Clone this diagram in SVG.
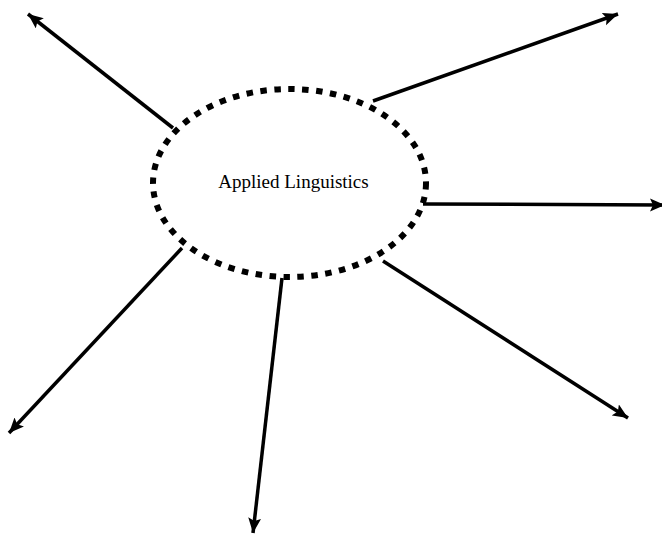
<svg xmlns="http://www.w3.org/2000/svg" width="662" height="534" viewBox="0 0 662 534">
<style>
.conn{stroke:#000;stroke-width:3.5;fill:none;marker-end:url(#ah)}
.node{fill:none;stroke:#000;stroke-width:6;stroke-dasharray:6.5 7.5}
.lbl{font-family:"Liberation Serif","Times New Roman",serif;font-size:19px;fill:#000}
</style>
<defs>
<marker id="ah" markerUnits="userSpaceOnUse" markerWidth="16" markerHeight="14" refX="15" refY="6.5" orient="auto">
<path d="M0,0 L15,6.5 L0,13 L3,6.5 z" fill="#000"/>
</marker>
</defs>
<rect width="662" height="534" fill="#fff"/>
<g id="connectors">
<line class="conn" x1="173" y1="128" x2="28" y2="14"/>
<line class="conn" x1="373" y1="101" x2="618" y2="14"/>
<line class="conn" x1="423" y1="204" x2="665" y2="205"/>
<line class="conn" x1="383" y1="261" x2="628" y2="418"/>
<line class="conn" x1="282" y1="278" x2="253" y2="533"/>
<line class="conn" x1="182" y1="248" x2="9" y2="433"/>
</g>
<g id="node-applied-linguistics">
<ellipse class="node" cx="289.5" cy="183" rx="136.5" ry="94"/>
<text class="lbl" x="293.5" y="188" text-anchor="middle">Applied Linguistics</text>
</g>
</svg>
